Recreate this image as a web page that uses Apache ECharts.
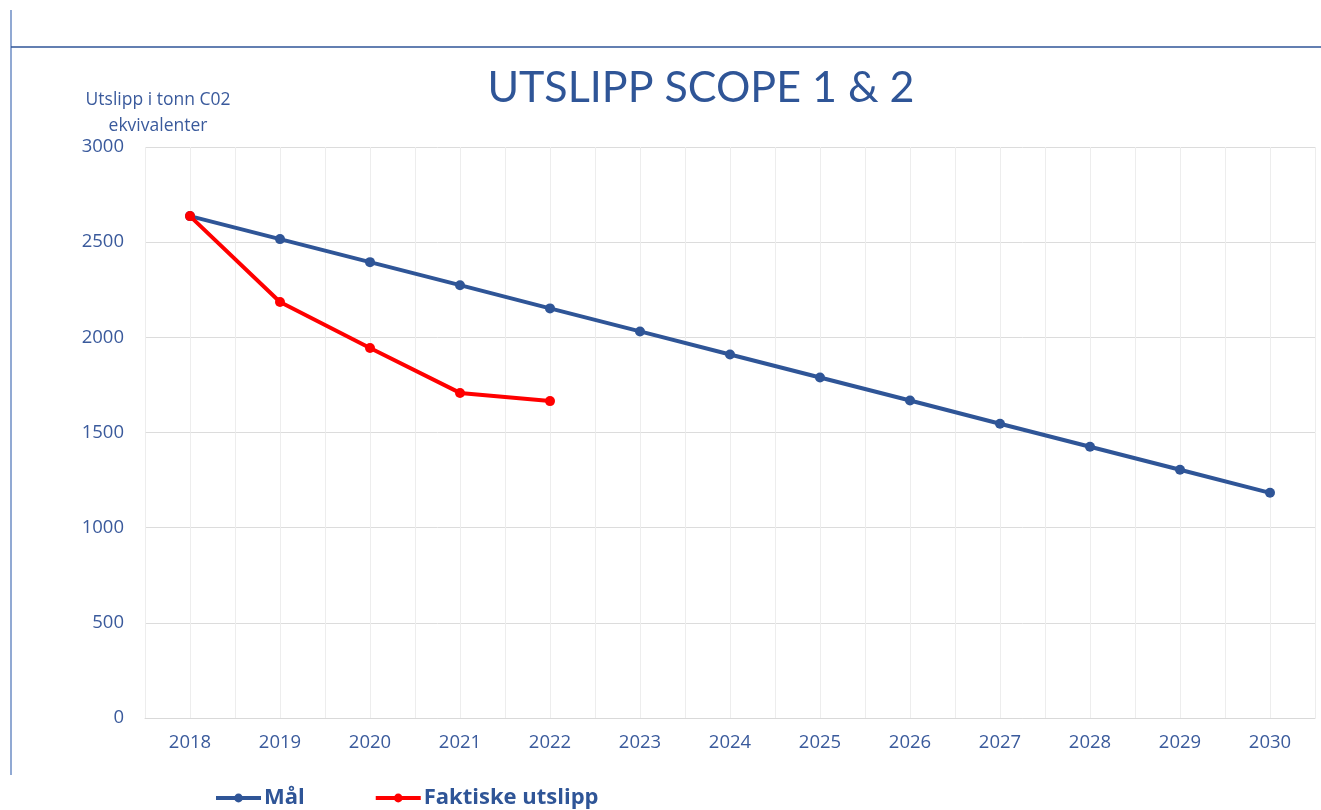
<!DOCTYPE html>
<html>
<head>
<meta charset="utf-8">
<script src="https://cdn.jsdelivr.net/npm/echarts@6/dist/echarts.min.js"></script>
<style>
html,body{margin:0;padding:0;background:#fff;}
#chart{width:1321px;height:810px;}
</style>
</head>
<body>
<div id="chart"></div>
<script>
const years = ['2018','2019','2020','2021','2022','2023','2024','2025','2026','2027','2028','2029','2030'];
const malValues = [2637, 2516, 2395, 2274, 2152, 2031, 1910, 1789, 1668, 1546, 1425, 1304, 1183];
const faktiskeValues = [2637, 2186, 1944, 1708, 1665];
const seriesNames = ['Mål', 'Faktiske utslipp'];
const titleText = 'UTSLIPP SCOPE 1 & 2';
const yAxisTitle = 'Utslipp i tonn C02\nekvivalenter';

const BLUE = '#2f5597';
const RED = '#ff0000';
const TEXT = '#3a5a9c';
const FONT = '"Open Sans", "Noto Sans", sans-serif';

const chart = echarts.init(document.getElementById('chart'), null, {renderer: 'canvas'});
chart.setOption({
  backgroundColor: '#ffffff',
  animation: false,
  textStyle: {fontFamily: FONT},
  title: [
    {
      text: titleText,
      left: 696, top: 62, textAlign: 'center',
      textStyle: {color: BLUE, fontSize: 43, fontWeight: 'normal', fontFamily: 'Lato, "Open Sans", sans-serif'}
    },
    {
      text: yAxisTitle,
      left: 153, top: 82, textAlign: 'center',
      textStyle: {color: TEXT, fontSize: 17.5, fontWeight: 'normal', lineHeight: 26, fontFamily: FONT}
    }
  ],
  graphic: [
    {type: 'line', shape: {x1: 11, y1: 10, x2: 11, y2: 775}, style: {stroke: '#6c8cc4', lineWidth: 1.5}},
    {type: 'line', shape: {x1: 11, y1: 47, x2: 1321, y2: 47}, style: {stroke: BLUE, lineWidth: 1.5}}
  ],
  legend: {
    left: 214, top: 787, padding: 0,
    itemWidth: 45, itemHeight: 11, itemGap: 69,
    data: seriesNames,
    lineStyle: {width: 4},
    textStyle: {color: BLUE, fontSize: 22, fontWeight: 'bold', fontFamily: FONT, padding: [0,0,0,-2]}
  },
  grid: {left: 145, right: 6, top: 147, bottom: 92, containLabel: false},
  xAxis: [
    {
      type: 'category',
      data: years,
      boundaryGap: true,
      axisLine: {show: true, lineStyle: {color: '#d9d9d9', width: 1}},
      axisTick: {show: false},
      axisLabel: {color: TEXT, fontSize: 18.5, margin: 15, fontFamily: FONT},
      splitLine: {show: false}
    },
    {
      type: 'value',
      min: 0, max: years.length * 2, interval: 1,
      position: 'top',
      axisLine: {show: false}, axisTick: {show: false}, axisLabel: {show: false},
      splitLine: {show: true, lineStyle: {color: '#ededed', width: 1}}
    }
  ],
  yAxis: {
    type: 'value',
    min: 0, max: 3000, interval: 500,
    axisLine: {show: false},
    axisTick: {show: false},
    axisLabel: {color: TEXT, fontSize: 18.5, margin: 21, fontFamily: FONT, formatter: v => String(v)},
    splitLine: {show: true, lineStyle: {color: '#dcdcdc', width: 1}}
  },
  series: [
    {
      name: seriesNames[0], type: 'line', data: malValues,
      xAxisIndex: 0,
      symbol: 'circle', symbolSize: 10,
      lineStyle: {color: BLUE, width: 4},
      itemStyle: {color: BLUE},
      z: 3
    },
    {
      name: seriesNames[1], type: 'line', data: faktiskeValues,
      xAxisIndex: 0,
      symbol: 'circle', symbolSize: 10,
      lineStyle: {color: RED, width: 4},
      itemStyle: {color: RED},
      z: 4
    }
  ]
});
</script>
</body>
</html>
